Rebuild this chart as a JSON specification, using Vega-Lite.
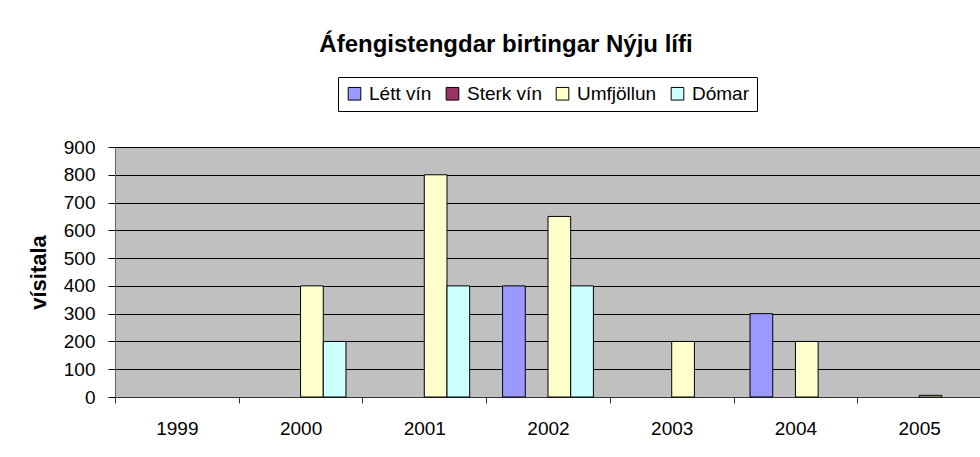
{
  "$schema": "https://vega.github.io/schema/vega-lite/v6.json",
  "width": 866,
  "height": 250,
  "autosize": {"type": "none"},
  "padding": {"left": 115, "top": 147, "right": 0, "bottom": 60},
  "background": "white",
  "title": {
    "text": "Áfengistengdar birtingar Nýju lífi",
    "font": "Liberation Sans",
    "fontSize": 24,
    "fontWeight": "bold",
    "color": "black",
    "anchor": "middle",
    "frame": "group",
    "dx": -42,
    "offset": 20
  },
  "data": {
    "values": [
      {"year": "2000", "series": "Umfjöllun", "value": 400},
      {"year": "2000", "series": "Dómar", "value": 200},
      {"year": "2001", "series": "Umfjöllun", "value": 800},
      {"year": "2001", "series": "Dómar", "value": 400},
      {"year": "2002", "series": "Létt vín", "value": 400},
      {"year": "2002", "series": "Umfjöllun", "value": 650},
      {"year": "2002", "series": "Dómar", "value": 400},
      {"year": "2003", "series": "Umfjöllun", "value": 200},
      {"year": "2004", "series": "Létt vín", "value": 300},
      {"year": "2004", "series": "Umfjöllun", "value": 200},
      {"year": "2005", "series": "Umfjöllun", "value": 6}
    ]
  },
  "mark": {"type": "bar", "stroke": "black", "strokeWidth": 1, "opacity": 1},
  "encoding": {
    "x": {
      "field": "year",
      "type": "nominal",
      "scale": {"domain": ["1999", "2000", "2001", "2002", "2003", "2004", "2005"], "paddingInner": 0, "paddingOuter": 0},
      "axis": {
        "title": null,
        "labelAngle": 0,
        "tickBand": "extent",
        "grid": false,
        "domainColor": "#333333",
        "tickColor": "#333333",
        "tickSize": 6,
        "labelPadding": 16,
        "labelFont": "Liberation Sans",
        "labelFontSize": 19,
        "labelColor": "black"
      }
    },
    "xOffset": {
      "field": "series",
      "type": "nominal",
      "scale": {"domain": ["Létt vín", "Sterk vín", "Umfjöllun", "Dómar"], "paddingInner": 0, "paddingOuter": 0.725}
    },
    "y": {
      "field": "value",
      "type": "quantitative",
      "scale": {"domain": [0, 900], "nice": false},
      "axis": {
        "title": "vísitala",
        "titleFont": "Liberation Sans",
        "titleFontSize": 22,
        "titleFontWeight": "bold",
        "titleColor": "black",
        "titlePadding": 13,
        "values": [0, 100, 200, 300, 400, 500, 600, 700, 800, 900],
        "grid": true,
        "gridColor": "black",
        "gridOpacity": 1,
        "gridWidth": 1,
        "domainColor": "#666666",
        "tickColor": "black",
        "tickSize": 7,
        "labelPadding": 13,
        "labelFont": "Liberation Sans",
        "labelFontSize": 19,
        "labelColor": "black"
      }
    },
    "color": {
      "field": "series",
      "type": "nominal",
      "scale": {
        "domain": ["Létt vín", "Sterk vín", "Umfjöllun", "Dómar"],
        "range": ["#9999FF", "#993366", "#FFFFCC", "#CCFFFF"]
      },
      "legend": {
        "title": null,
        "orient": "none",
        "direction": "horizontal",
        "legendX": 223,
        "legendY": -70,
        "symbolType": "square",
        "symbolSize": 160,
        "symbolStrokeColor": "black",
        "symbolStrokeWidth": 1,
        "symbolOpacity": 1,
        "labelFont": "Liberation Sans",
        "labelFontSize": 19,
        "labelColor": "black",
        "labelOffset": 5,
        "columnPadding": 11,
        "padding": 7,
        "strokeColor": "black",
        "fillColor": "white"
      }
    }
  },
  "config": {
    "view": {"fill": "#C0C0C0", "stroke": "#888888", "strokeWidth": 1},
    "axis": {"domainWidth": 1, "tickWidth": 1}
  }
}
